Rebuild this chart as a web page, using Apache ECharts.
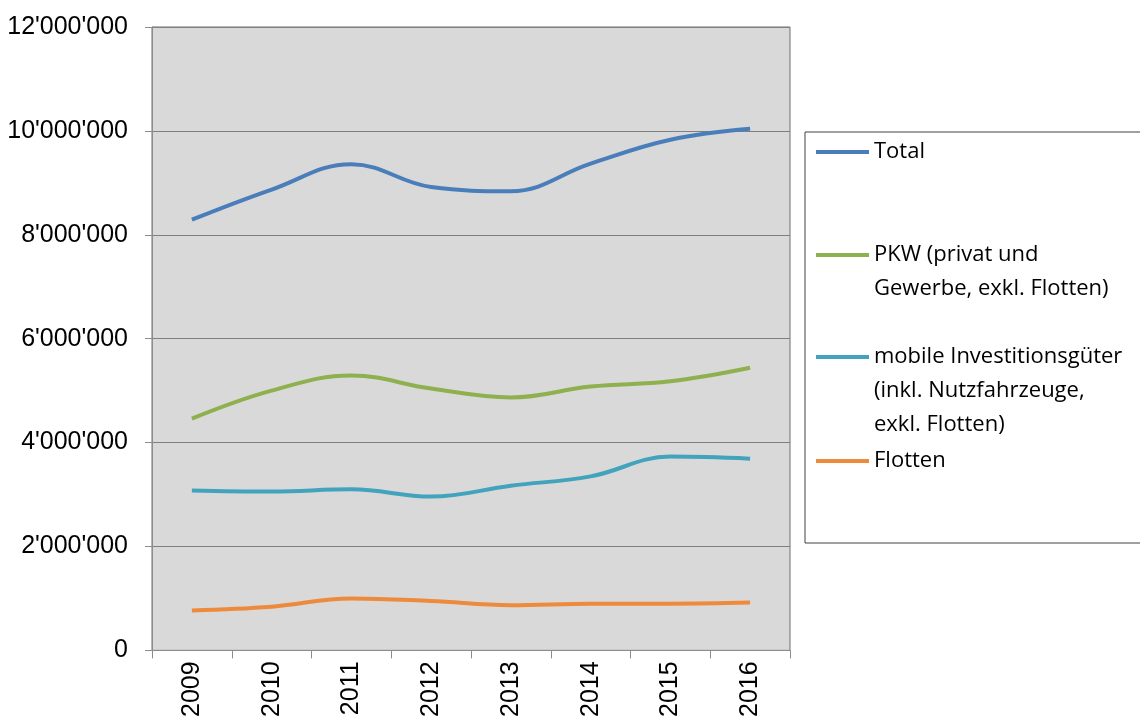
<!DOCTYPE html>
<html style="height: 100%">
   <head>
       <meta charset="utf-8">
       <title>Fahrzeuge</title>
   </head>
   <body style="height: 100%; margin: 0; background: #fff">
       <div id="container" style="width: 1140px; height: 720px"></div>
       <script type="text/javascript" src="https://cdn.jsdelivr.net/npm/echarts@6/dist/echarts.min.js"></script>
       <script type="text/javascript">
           // data
           var years = ['2009', '2010', '2011', '2012', '2013', '2014', '2015', '2016'];
           var total = [8290000, 8870000, 9360000, 8920000, 8840000, 9370000, 9830000, 10040000];
           var pkw = [4460000, 5000000, 5290000, 5040000, 4870000, 5080000, 5180000, 5440000];
           var mobile = [3080000, 3060000, 3100000, 2960000, 3170000, 3350000, 3730000, 3690000];
           var flotten = [770000, 840000, 1000000, 950000, 870000, 900000, 900000, 920000];
           var names = [
               'Total',
               'PKW (privat und\nGewerbe, exkl. Flotten)',
               'mobile Investitionsgüter\n(inkl. Nutzfahrzeuge,\nexkl. Flotten)',
               'Flotten'
           ];
           var colors = ['#4a7ebb', '#8fb04f', '#42a3bd', '#ee8a3c'];

           var dom = document.getElementById("container");
           var myChart = echarts.init(dom);

           function fmt(v) {
               return String(v).replace(/\B(?=(\d{3})+(?!\d))/g, "'");
           }

           // one legend per entry, lined up like the Excel box.
           // legend text is centred on the icon, so blank lines in front
           // push the first real line level with the icon
           var legendTops = [135, 204, 272, 444];
           var legends = names.map(function (n, i) {
               return {
                   data: [n],
                   left: 816,
                   top: legendTops[i],
                   padding: 0,
                   icon: 'rect',
                   itemWidth: 53,
                   itemHeight: 4,
                   itemGap: 4,
                   selectedMode: false,
                   formatter: function (name) {
                       var k = name.split('\n').length - 1;
                       var pre = '';
                       for (var j = 0; j < k; j++) pre += ' \n';
                       return pre + name;
                   },
                   textStyle: {
                       fontFamily: 'Open Sans',
                       fontSize: 22,
                       color: '#000',
                       lineHeight: 34
                   }
               };
           });

           var seriesData = [total, pkw, mobile, flotten];

           var option = {
               animation: false,
               color: colors,
               legend: legends,
               graphic: [{
                   type: 'rect',
                   shape: { x: 805, y: 132, width: 345, height: 411 },
                   style: { fill: null, stroke: '#404040', lineWidth: 1 },
                   silent: true
               }],
               grid: {
                   left: 152,
                   right: 350,
                   top: 27,
                   bottom: 69,
                   show: true,
                   backgroundColor: '#d9d9d9',
                   borderColor: '#6f6f6f',
                   borderWidth: 1
               },
               xAxis: {
                   type: 'category',
                   data: years,
                   boundaryGap: true,
                   axisLine: { lineStyle: { color: '#8c8c8c', width: 1 } },
                   axisTick: { show: true, length: 8, lineStyle: { color: '#8c8c8c' } },
                   axisLabel: {
                       rotate: 90,
                       margin: 11,
                       fontFamily: 'Liberation Sans',
                       fontSize: 25,
                       color: '#000'
                   }
               },
               yAxis: {
                   type: 'value',
                   min: 0,
                   max: 12000000,
                   interval: 2000000,
                   axisLine: { show: true, lineStyle: { color: '#8c8c8c' } },
                   axisTick: { show: true, length: 7, lineStyle: { color: '#8c8c8c' } },
                   splitLine: { lineStyle: { color: '#7f7f7f', width: 1 } },
                   axisLabel: {
                       formatter: fmt,
                       margin: 24,
                       fontFamily: 'Liberation Sans',
                       fontSize: 25,
                       color: '#000'
                   }
               },
               series: seriesData.map(function (d, i) {
                   return {
                       name: names[i],
                       type: 'line',
                       data: d,
                       smooth: 0.4,
                       showSymbol: false,
                       symbol: 'none',
                       lineStyle: { width: 4, color: colors[i] },
                       itemStyle: { color: colors[i] }
                   };
               })
           };

           myChart.setOption(option);
       </script>
   </body>
</html>
